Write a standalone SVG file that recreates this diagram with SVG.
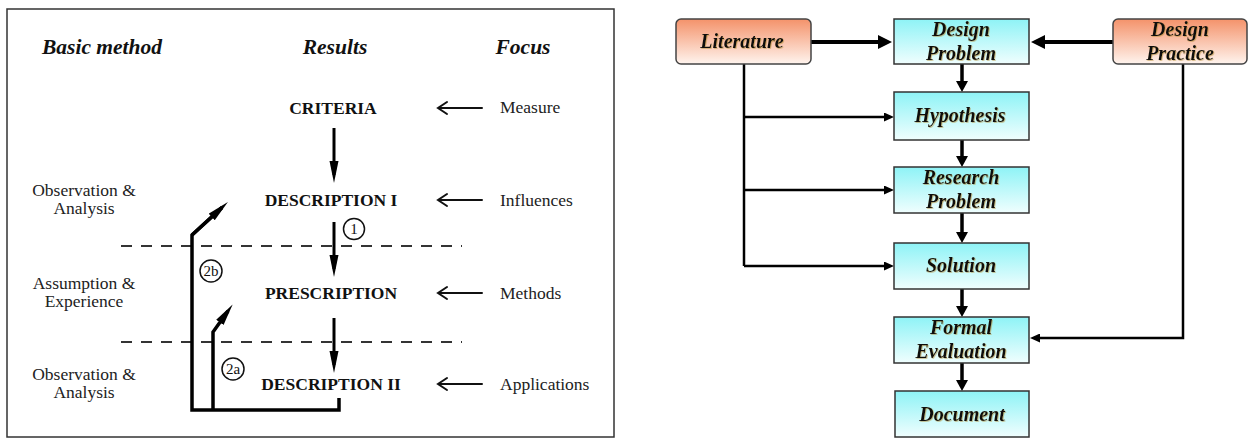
<svg xmlns="http://www.w3.org/2000/svg" width="1250" height="442" viewBox="0 0 1250 442">
  <defs>
    <linearGradient id="gradCyan" x1="0" y1="0" x2="0" y2="1">
      <stop offset="0" stop-color="#8ef3f6"/>
      <stop offset="1" stop-color="#f0fefe"/>
    </linearGradient>
    <linearGradient id="gradOrange" x1="0" y1="0" x2="0" y2="1">
      <stop offset="0" stop-color="#f4926a"/>
      <stop offset="1" stop-color="#fff4ee"/>
    </linearGradient>
    <filter id="glow" x="-10%" y="-20%" width="120%" height="140%">
      <feDropShadow dx="0.8" dy="0.8" stdDeviation="0.5" flood-color="#b08a30" flood-opacity="0.6"/>
    </filter>
    <!-- arrowheads -->
    <marker id="headBig" markerUnits="userSpaceOnUse" markerWidth="14" markerHeight="14" refX="8" refY="7" orient="auto">
      <path d="M0,0 L14,7 L0,14 z" fill="#000"/>
    </marker>
    <marker id="headDown" markerUnits="userSpaceOnUse" markerWidth="12" markerHeight="12" refX="5" refY="6" orient="auto">
      <path d="M0,0 L11,6 L0,12 z" fill="#000"/>
    </marker>
    <marker id="headSmall" markerUnits="userSpaceOnUse" markerWidth="10" markerHeight="9" refX="4" refY="4.5" orient="auto">
      <path d="M0,0 L10,4.5 L0,9 z" fill="#000"/>
    </marker>
    <marker id="headLong" markerUnits="userSpaceOnUse" markerWidth="22" markerHeight="10" refX="14" refY="5" orient="auto">
      <path d="M0,0.5 L22,5 L0,9.5 z" fill="#000"/>
    </marker>
  </defs>
  <style>
    .hdr { font-family: "Liberation Serif", serif; font-weight: bold; font-style: italic; font-size: 21.5px; fill: #111; }
    .res { font-family: "Liberation Serif", serif; font-weight: bold; font-size: 17.5px; fill: #111; }
    .lbl { font-family: "Liberation Serif", serif; font-size: 17.5px; fill: #222; }
    .num { font-family: "Liberation Serif", serif; font-size: 15px; fill: #111; }
    .box { font-family: "Liberation Serif", serif; font-weight: bold; font-style: italic; font-size: 20px; fill: #111; filter: url(#glow); }
    .ctr { text-anchor: middle; }
    .frame { fill: #fff; stroke: #333; stroke-width: 1.5; }
    .dash { stroke: #333; stroke-width: 2; stroke-dasharray: 11 9; fill: none; }
    .flow { stroke: #000; stroke-width: 3; fill: none; }
    .feed { stroke: #000; stroke-width: 3.5; fill: none; }
    .focus { stroke: #111; stroke-width: 2; fill: none; stroke-linecap: round; }
    .circ { fill: #fff; stroke: #111; stroke-width: 1.5; }
    .cyan { fill: url(#gradCyan); stroke: #333; stroke-width: 1.5; }
    .orange { fill: url(#gradOrange); stroke: #444; stroke-width: 1.5; }
    .thick { stroke: #000; stroke-width: 4; fill: none; }
    .mid { stroke: #000; stroke-width: 3.5; fill: none; }
    .thin { stroke: #000; stroke-width: 2.5; fill: none; }
  </style>

  <rect width="1250" height="442" fill="#fff"/>

  <!-- ===== Left panel: research method framework ===== -->
  <g id="framework">
    <rect class="frame" x="7" y="9" width="607" height="428"/>

    <g id="headers">
      <text class="hdr ctr" x="102" y="54">Basic method</text>
      <text class="hdr ctr" x="335" y="54">Results</text>
      <text class="hdr ctr" x="523" y="54">Focus</text>
    </g>

    <!-- zone separators -->
    <line class="dash" x1="121" y1="246" x2="462" y2="246"/>
    <line class="dash" x1="121" y1="342" x2="462" y2="342"/>

    <g id="result-criteria"><text class="res ctr" x="333" y="114">CRITERIA</text></g>
    <g id="result-description-1"><text class="res ctr" x="331" y="206">DESCRIPTION I</text></g>
    <g id="result-prescription"><text class="res ctr" x="331" y="299">PRESCRIPTION</text></g>
    <g id="result-description-2"><text class="res ctr" x="331" y="390">DESCRIPTION II</text></g>

    <g id="focus-labels">
      <text class="lbl" x="500" y="113">Measure</text>
      <text class="lbl" x="500" y="206">Influences</text>
      <text class="lbl" x="500" y="299">Methods</text>
      <text class="lbl" x="500" y="390">Applications</text>
    </g>

    <g id="method-labels">
      <text class="lbl ctr" x="84" y="196">Observation &amp;</text>
      <text class="lbl ctr" x="84" y="214">Analysis</text>
      <text class="lbl ctr" x="84" y="289">Assumption &amp;</text>
      <text class="lbl ctr" x="84" y="307">Experience</text>
      <text class="lbl ctr" x="84" y="380">Observation &amp;</text>
      <text class="lbl ctr" x="84" y="398">Analysis</text>
    </g>

    <g id="framework-connectors">
      <!-- main sequence -->
      <path class="flow" d="M334,128 V175" marker-end="url(#headLong)"/>
      <path class="flow" d="M334,222 V269" marker-end="url(#headLong)"/>
      <path class="flow" d="M334,318 V365" marker-end="url(#headLong)"/>
      <!-- focus arrows -->
      <path class="focus" d="M482,108 H438 M447,102 Q441,106 438,108 Q441,110 447,114"/>
      <path class="focus" d="M482,200 H438 M447,194 Q441,198 438,200 Q441,202 447,206"/>
      <path class="focus" d="M482,293 H438 M447,287 Q441,291 438,293 Q441,295 447,299"/>
      <path class="focus" d="M482,384 H438 M447,378 Q441,382 438,384 Q441,386 447,390"/>
      <!-- feedback loops -->
      <path class="feed" d="M339,398 V410 H192 V235 L222,207.5"/>
      <path class="feed" d="M192,235 L222,207.5" marker-end="url(#headLong)"/>
      <path class="feed" d="M213,410 V332 L228,311" marker-end="url(#headLong)"/>
    </g>

    <g id="step-markers">
      <circle class="circ" cx="354" cy="229" r="10.5"/>
      <text class="num ctr" x="354" y="234">1</text>
      <circle class="circ" cx="211" cy="271" r="11"/>
      <text class="num ctr" x="211" y="276">2b</text>
      <circle class="circ" cx="233" cy="369" r="11"/>
      <text class="num ctr" x="233" y="374">2a</text>
    </g>
  </g>

  <!-- ===== Right panel: design research flow ===== -->
  <g id="flow-connectors">
    <path class="thick" d="M811,42 H886" marker-end="url(#headBig)"/>
    <path class="thick" d="M1113,42 H1037" marker-end="url(#headBig)"/>
    <path class="mid" d="M962,64 V86" marker-end="url(#headDown)"/>
    <path class="mid" d="M962,140 V161" marker-end="url(#headDown)"/>
    <path class="mid" d="M962,213 V237" marker-end="url(#headDown)"/>
    <path class="mid" d="M962,289 V311" marker-end="url(#headDown)"/>
    <path class="mid" d="M962,363 V385" marker-end="url(#headDown)"/>
    <path class="thin" d="M744,64 V266"/>
    <path class="thin" d="M744,117 H888" marker-end="url(#headSmall)"/>
    <path class="thin" d="M744,190 H888" marker-end="url(#headSmall)"/>
    <path class="thin" d="M744,266 H888" marker-end="url(#headSmall)"/>
    <path class="thin" d="M1183,64 V338 H1036" marker-end="url(#headSmall)"/>
  </g>

  <g id="literature">
    <rect class="orange" x="676" y="19" width="135" height="45" rx="5"/>
    <text class="box ctr" x="742" y="48">Literature</text>
  </g>
  <g id="design-practice">
    <rect class="orange" x="1113" y="19" width="134" height="45" rx="5"/>
    <text class="box ctr" x="1180" y="36">Design</text>
    <text class="box ctr" x="1180" y="60">Practice</text>
  </g>
  <g id="design-problem">
    <rect class="cyan" x="894" y="19" width="135" height="45"/>
    <text class="box ctr" x="961" y="36">Design</text>
    <text class="box ctr" x="961" y="60">Problem</text>
  </g>
  <g id="hypothesis">
    <rect class="cyan" x="894" y="92" width="135" height="48"/>
    <text class="box ctr" x="960" y="122">Hypothesis</text>
  </g>
  <g id="research-problem">
    <rect class="cyan" x="894" y="167" width="135" height="46"/>
    <text class="box ctr" x="961" y="184">Research</text>
    <text class="box ctr" x="961" y="208">Problem</text>
  </g>
  <g id="solution">
    <rect class="cyan" x="894" y="243" width="135" height="46"/>
    <text class="box ctr" x="961" y="272">Solution</text>
  </g>
  <g id="formal-evaluation">
    <rect class="cyan" x="894" y="317" width="135" height="46"/>
    <text class="box ctr" x="961" y="334">Formal</text>
    <text class="box ctr" x="961" y="358">Evaluation</text>
  </g>
  <g id="document">
    <rect class="cyan" x="895" y="391" width="134" height="46"/>
    <text class="box ctr" x="962" y="421">Document</text>
  </g>
</svg>
